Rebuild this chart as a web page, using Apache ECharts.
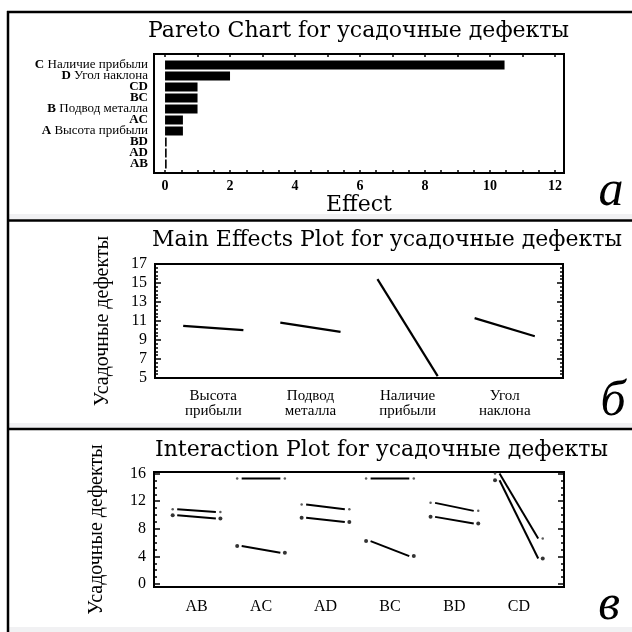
<!DOCTYPE html>
<html>
<head>
<meta charset="utf-8">
<script src="https://cdn.jsdelivr.net/npm/echarts@6/dist/echarts.min.js"></script>
<style>
  html, body { margin: 0; padding: 0; background: #fff; }
  #chart { width: 632px; height: 632px; }
</style>
</head>
<body>
<div id="chart"></div>
<script>
// ---- Pareto chart of effects ----
const effectCodes = ['C', 'D', 'CD', 'BC', 'B', 'AC', 'A', 'BD', 'AD', 'AB'];
const effectNames = ['Наличие прибыли', 'Угол наклона', '', '', 'Подвод металла', '', 'Высота прибыли', '', '', ''];
const effectValues = [10.45, 2.0, 1.0, 1.0, 1.0, 0.55, 0.55, 0.05, 0.05, 0.05];
const effectTickLabels = [0, 2, 4, 6, 8, 10, 12];

// ---- Main effects: mean response at low / high level ----
const factorLabels = ['Высота\nприбыли', 'Подвод\nметалла', 'Наличие\nприбыли', 'Угол\nнаклона'];
const factorLowMean = [10.48, 10.83, 15.4, 11.3];
const factorHighMean = [10.04, 9.86, 5.2, 9.4];
const mainTickLabels = [5, 7, 9, 11, 13, 15, 17];

// ---- Interactions: two lines per pair (second factor at + / -) ----
const pairLabels = ['AB', 'AC', 'AD', 'BC', 'BD', 'CD'];
const plusStart = [10.84, 15.28, 11.52, 15.28, 11.76, 16.0];
const plusEnd = [10.45, 15.28, 10.84, 15.28, 10.6, 6.6];
const minusStart = [9.97, 5.5, 9.59, 6.22, 9.73, 15.03];
const minusEnd = [9.5, 4.53, 9.0, 4.05, 8.77, 3.7];
const interTickLabels = [0, 4, 8, 12, 16];

const serif = '"Liberation Serif", "Times New Roman", serif';
const titleFont = '"DejaVu Serif", serif';
const black = '#000';

function steps(from, to, step) {
  const out = [];
  for (let v = from; v <= to + 1e-9; v += step) out.push(+v.toFixed(3));
  return out;
}

const chart = echarts.init(document.getElementById('chart'), null, { renderer: 'canvas' });

// frame-only tick axis helper
function tickAxis(gridIndex, position, min, max, values, len) {
  return {
    type: 'value', gridIndex, position, min, max,
    axisLine: { show: false }, splitLine: { show: false },
    axisLabel: { show: false },
    axisTick: { show: true, inside: true, length: len, customValues: values, lineStyle: { color: black, width: 1.5 } }
  };
}

const series = [];

// Pareto bars
series.push({
  type: 'bar', xAxisIndex: 2, yAxisIndex: 1,
  data: effectValues, barWidth: 9,
  itemStyle: { color: black }, silent: true
});

// Main effect lines
factorLowMean.forEach((lo, i) => {
  const c = i + 1;
  series.push({
    type: 'line', xAxisIndex: 3, yAxisIndex: 2,
    data: [[c - 0.31, lo], [c + 0.31, factorHighMean[i]]],
    showSymbol: false, lineStyle: { color: black, width: 2.2 }, silent: true
  });
});

// Interaction lines and end markers
pairLabels.forEach((p, i) => {
  const c = i + 1;
  series.push({
    type: 'line', xAxisIndex: 4, yAxisIndex: 6,
    data: [[c - 0.3, plusStart[i]], [c + 0.3, plusEnd[i]]],
    showSymbol: false, lineStyle: { color: black, width: 2 }, silent: true
  });
  series.push({
    type: 'line', xAxisIndex: 4, yAxisIndex: 6,
    data: [[c - 0.3, minusStart[i]], [c + 0.3, minusEnd[i]]],
    showSymbol: false, lineStyle: { color: black, width: 2 }, silent: true
  });
  series.push({
    type: 'scatter', xAxisIndex: 4, yAxisIndex: 6,
    data: [[c - 0.37, plusStart[i]], [c + 0.37, plusEnd[i]]],
    symbolSize: 2.5, itemStyle: { color: '#333' }, silent: true
  });
  series.push({
    type: 'scatter', xAxisIndex: 4, yAxisIndex: 6,
    data: [[c - 0.37, minusStart[i]], [c + 0.37, minusEnd[i]]],
    symbolSize: 4, itemStyle: { color: black }, silent: true
  });
});

const frameStyle = { show: true, borderColor: black, borderWidth: 2, backgroundColor: 'transparent' };
const titleStyle = { fontFamily: titleFont, fontSize: 22, fontWeight: 'normal', color: black };

const option = {
  animation: false,
  backgroundColor: '#fff',
  title: [
    { text: 'Pareto Chart for усадочные дефекты', left: 148, top: 20, padding: 0, textStyle: titleStyle },
    { text: 'Main Effects Plot for усадочные дефекты', left: 152, top: 229, padding: 0, textStyle: titleStyle },
    { text: 'Interaction Plot for усадочные дефекты', left: 155, top: 439, padding: 0, textStyle: titleStyle }
  ],
  grid: [
    Object.assign({ left: 154, top: 54, width: 410, height: 119 }, frameStyle),
    { left: 154, top: 59.5, width: 410, height: 110, show: false },
    Object.assign({ left: 155, top: 264, width: 408, height: 114 }, frameStyle),
    Object.assign({ left: 154, top: 472, width: 410, height: 115 }, frameStyle)
  ],
  xAxis: [
    { // 0: Pareto effect scale
      type: 'value', gridIndex: 0, position: 'bottom', min: -0.34, max: 12.28,
      axisLine: { show: false }, splitLine: { show: false },
      axisTick: { show: true, inside: true, length: 3, customValues: steps(0, 12, 0.5), lineStyle: { color: black, width: 1.5 } },
      axisLabel: { customValues: effectTickLabels, margin: 6, fontFamily: serif, fontSize: 14, fontWeight: 'bold', color: black },
      name: 'Effect', nameLocation: 'middle', nameGap: 21,
      nameTextStyle: { fontFamily: titleFont, fontSize: 22, color: black }
    },
    tickAxis(0, 'top', -0.34, 12.28, steps(0, 12, 1), 3),
    { // 2: bar scale (same extent)
      type: 'value', gridIndex: 1, min: -0.34, max: 12.28, show: false
    },
    { // 3: main effects factors
      type: 'value', gridIndex: 2, min: 0.4, max: 4.6,
      axisLine: { show: false }, splitLine: { show: false }, axisTick: { show: false },
      axisLabel: {
        customValues: [1, 2, 3, 4], margin: 11,
        formatter: v => factorLabels[Math.round(v) - 1] || '',
        fontFamily: serif, fontSize: 15, lineHeight: 15, color: black
      }
    },
    { // 4: interaction pairs
      type: 'value', gridIndex: 3, min: 0.34, max: 6.7,
      axisLine: { show: false }, splitLine: { show: false }, axisTick: { show: false },
      axisLabel: {
        customValues: [1, 2, 3, 4, 5, 6], margin: 12,
        formatter: v => pairLabels[Math.round(v) - 1] || '',
        fontFamily: serif, fontSize: 16, color: black
      }
    }
  ],
  yAxis: [
    { type: 'value', gridIndex: 0, show: false, min: 0, max: 1 },
    { // 1: Pareto categories
      type: 'category', gridIndex: 1, data: effectCodes, inverse: true,
      axisLine: { show: false }, axisTick: { show: false },
      axisLabel: {
        margin: 6, interval: 0,
        formatter: (v, i) => effectNames[i] ? '{b|' + v + '} {n|' + effectNames[i] + '}' : '{b|' + v + '}',
        rich: {
          b: { fontFamily: serif, fontSize: 13, fontWeight: 'bold', color: black },
          n: { fontFamily: serif, fontSize: 13, color: black }
        }
      }
    },
    { // 2: main effects response
      type: 'value', gridIndex: 2, position: 'left', min: 5, max: 17,
      axisLine: { show: false }, splitLine: { show: false },
      axisTick: { show: true, inside: true, length: 6, customValues: mainTickLabels, lineStyle: { color: black, width: 1.5 } },
      axisLabel: { customValues: mainTickLabels, margin: 8, fontFamily: serif, fontSize: 16, color: black },
      name: 'Усадочные дефекты', nameLocation: 'middle', nameGap: 42,
      nameTextStyle: { fontFamily: serif, fontSize: 20, color: black }
    },
    tickAxis(2, 'left', 5, 17, steps(5, 17, 0.4), 3),
    tickAxis(2, 'right', 5, 17, mainTickLabels, 6),
    tickAxis(2, 'right', 5, 17, steps(5, 17, 0.4), 3),
    { // 6: interaction response
      type: 'value', gridIndex: 3, position: 'left', min: -0.43, max: 16.23,
      axisLine: { show: false }, splitLine: { show: false },
      axisTick: { show: true, inside: true, length: 6, customValues: interTickLabels, lineStyle: { color: black, width: 1.5 } },
      axisLabel: { customValues: interTickLabels, margin: 8, fontFamily: serif, fontSize: 16, color: black },
      name: 'Усадочные дефекты', nameLocation: 'middle', nameGap: 47,
      nameTextStyle: { fontFamily: serif, fontSize: 20, color: black }
    },
    tickAxis(3, 'left', -0.43, 16.23, steps(0, 16, 1), 3),
    tickAxis(3, 'right', -0.43, 16.23, interTickLabels, 6),
    tickAxis(3, 'right', -0.43, 16.23, steps(0, 16, 1), 3)
  ],
  graphic: [
    // panel borders
    { type: 'line', shape: { x1: 7, y1: 12, x2: 632, y2: 12 }, style: { stroke: black, lineWidth: 2.5 } },
    { type: 'rect', shape: { x: 9, y: 214, width: 623, height: 5 }, style: { fill: '#f1f1f3' } },
    { type: 'line', shape: { x1: 7, y1: 220.5, x2: 632, y2: 220.5 }, style: { stroke: black, lineWidth: 2.5 } },
    { type: 'rect', shape: { x: 9, y: 423, width: 623, height: 5 }, style: { fill: '#f1f1f3' } },
    { type: 'line', shape: { x1: 7, y1: 429, x2: 632, y2: 429 }, style: { stroke: black, lineWidth: 2.5 } },
    { type: 'rect', shape: { x: 9, y: 627, width: 623, height: 5 }, style: { fill: '#f1f1f3' } },
    { type: 'line', shape: { x1: 8, y1: 11, x2: 8, y2: 632 }, style: { stroke: black, lineWidth: 2.5 } },
    // panel letters
    { type: 'text', style: { text: 'a', x: 611, y: 192, textAlign: 'center', textVerticalAlign: 'middle',
      font: 'italic 50px "Liberation Serif", serif', fill: black } },
    { type: 'text', style: { text: 'б', x: 613, y: 402, textAlign: 'center', textVerticalAlign: 'middle',
      font: 'italic 50px "Liberation Serif", serif', fill: black } },
    { type: 'text', style: { text: 'в', x: 609, y: 606, textAlign: 'center', textVerticalAlign: 'middle',
      font: 'italic 50px "Liberation Serif", serif', fill: black } }
  ],
  series
};

chart.setOption(option);
</script>
</body>
</html>
